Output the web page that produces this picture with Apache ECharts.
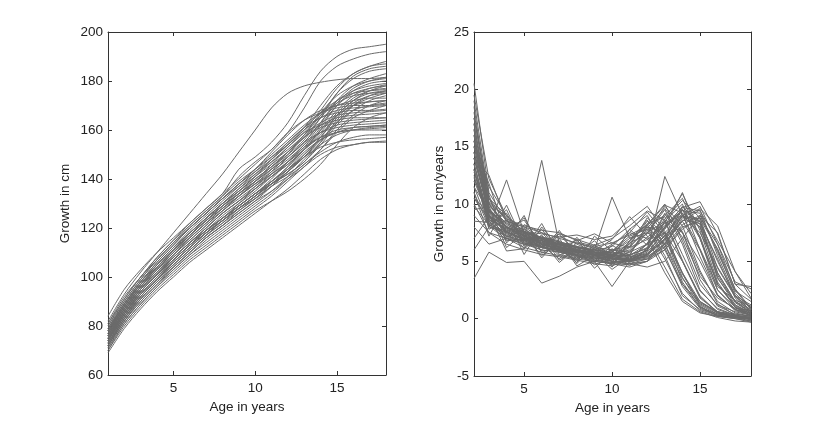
<!DOCTYPE html>
<html>
<head>
<meta charset="utf-8">
<script src="https://cdn.jsdelivr.net/npm/echarts@6.0.0/dist/echarts.min.js"></script>
<style>
  html, body { margin: 0; padding: 0; background: #fff; }
  #chart { width: 830px; height: 421px; }
</style>
</head>
<body>
<div id="chart"></div>
<script>
// ages for the height curves (years)
const heightAges = [1, 2, 3, 4, 5, 6, 7, 8, 9, 10, 11, 12, 13, 14, 15, 16, 17, 18]
// height in cm, one row per child
const heightCurves = [
  [80, 91, 100, 108, 115, 122, 128, 134, 144, 149, 155, 163, 174, 184, 190, 193, 194, 195],
  [79, 90, 99, 107, 114, 121, 127, 133, 141, 147, 152, 159, 169, 180, 186, 189, 191, 192],
  [82, 93, 102, 110, 118, 126, 134, 142, 151, 160, 169, 175, 178, 179.5, 180.5, 181, 181, 181.5],
  [78, 89, 97, 105, 112, 118, 124, 130, 135, 140, 145, 150, 156, 165, 175, 182, 185, 186],
  [77, 88, 97, 104, 111, 117, 123, 129, 134, 139, 144, 149, 155, 163, 172, 178, 181, 183],
  [76, 87, 95, 103, 109, 116, 122, 127, 133, 138, 142, 147, 153, 161, 170, 176, 179, 180],
  [75, 86, 94, 101, 108, 114, 120, 126, 131, 136, 141, 146, 152, 159, 167, 173, 176, 177],
  [74, 85, 93, 100, 107, 113, 119, 124, 129, 134, 139, 144, 150, 157, 165, 171, 174, 175],
  [73, 84, 92, 99, 105, 111, 117, 123, 128, 133, 138, 142, 147, 154, 162, 168, 172, 174],
  [77, 87, 96, 103, 110, 117, 123, 129, 134, 140, 145, 151, 158, 167, 174, 178, 180, 181],
  [72, 82, 90, 97, 104, 110, 116, 121, 126, 131, 135, 140, 145, 152, 160, 166, 170, 172],
  [75, 85, 94, 101, 107, 113, 119, 124, 129, 134, 138, 142, 147, 155, 164, 170, 173, 175],
  [79, 89, 98, 106, 113, 120, 126, 132, 138, 143, 148, 154, 161, 170, 178, 183, 186, 187],
  [76, 86, 95, 102, 109, 115, 121, 127, 132, 137, 142, 147, 152, 158, 166, 172, 176, 178],
  [74, 84, 92, 99, 106, 112, 118, 123, 128, 132, 137, 141, 146, 152, 159, 165, 168, 170],
  [78, 88, 97, 104, 111, 118, 124, 130, 136, 141, 146, 151, 157, 165, 172, 176, 178, 179],
  [70, 80, 88, 95, 101, 107, 112, 117, 122, 127, 131, 135, 140, 146, 154, 161, 165, 167],
  [81, 92, 100, 108, 115, 121, 127, 133, 139, 144, 149, 154, 160, 168, 177, 183, 186, 188],
  [75, 86, 95, 102, 109, 115, 121, 127, 133, 139, 146, 153, 159, 162, 164, 165, 165, 165],
  [73, 84, 93, 100, 107, 113, 119, 124, 130, 136, 142, 149, 155, 159, 161, 162, 162.5, 163],
  [72, 83, 91, 98, 104, 110, 116, 121, 126, 131, 137, 143, 149, 153, 155, 156, 156.5, 157],
  [71, 81, 89, 96, 102, 108, 113, 118, 123, 128, 133, 139, 145, 150, 153, 154, 155, 155],
  [76, 87, 96, 104, 111, 117, 123, 129, 135, 141, 148, 155, 161, 165, 167, 168, 168, 168.5],
  [74, 85, 94, 101, 108, 114, 120, 126, 131, 137, 143, 150, 157, 161, 163, 164, 164.5, 165],
  [78, 89, 98, 106, 113, 120, 126, 132, 138, 144, 151, 158, 164, 168, 170, 171, 171.5, 172],
  [73, 83, 92, 99, 105, 111, 117, 122, 128, 133, 139, 145, 152, 157, 160, 161, 161.5, 162],
  [69, 79, 87, 94, 100, 106, 111, 116, 121, 126, 131, 136, 142, 148, 152, 154, 155, 155.5],
  [77, 88, 97, 104, 111, 117, 124, 130, 136, 142, 148, 154, 160, 165, 168, 169, 169.5, 170],
  [75, 85, 94, 101, 107, 113, 119, 125, 130, 135, 141, 147, 154, 159, 162, 163, 163.5, 164],
  [72, 82, 91, 98, 104, 110, 116, 121, 127, 132, 137, 143, 150, 156, 159, 160, 160.5, 161],
  [74, 85, 93, 100, 106, 112, 118, 123, 129, 134, 140, 147, 153, 157, 159, 160, 160, 160],
  [84, 95, 103, 110, 116, 122, 128, 134, 140, 146, 152, 159, 164, 167, 169, 170, 170, 170.5],
  [76, 87, 96, 103, 110, 116, 122, 128, 133, 138, 144, 151, 158, 163, 166, 167, 167.5, 168],
  [78, 88, 97, 105, 112, 118, 124, 130, 135, 141, 147, 153, 159, 166, 171, 174, 175, 175.5],
  [75, 86, 95, 102, 108, 114, 120, 126, 131, 136, 141, 146, 152, 160, 168, 174, 177, 178],
  [73, 83, 92, 99, 106, 112, 118, 123, 128, 133, 138, 143, 149, 157, 166, 172, 175, 176],
  [80, 90, 99, 107, 114, 120, 126, 132, 137, 142, 147, 152, 158, 166, 175, 181, 184, 185],
  [71, 82, 90, 97, 103, 109, 115, 120, 125, 130, 135, 141, 148, 154, 158, 160, 161, 161.5],
  [77, 87, 96, 103, 110, 116, 122, 128, 134, 139, 145, 151, 157, 162, 165, 166, 166.5, 167],
  [74, 84, 93, 100, 106, 112, 118, 124, 129, 134, 139, 145, 152, 160, 166, 170, 171.5, 172],
  [79, 89, 98, 105, 112, 118, 124, 129, 134, 139, 144, 149, 155, 163, 171, 177, 180, 181.5],
  [72, 83, 91, 98, 105, 111, 117, 122, 127, 132, 138, 144, 151, 156, 159, 161, 161.5, 162],
  [76, 86, 95, 102, 108, 114, 119, 124, 129, 134, 139, 144, 149, 155, 163, 170, 174, 176],
  [78, 89, 98, 105, 112, 119, 125, 131, 137, 143, 149, 155, 161, 167, 172, 175, 176, 176.5],
  [75, 85, 94, 101, 107, 113, 118, 123, 128, 133, 138, 143, 149, 156, 163, 168, 170, 171],
  [70, 81, 89, 96, 103, 109, 114, 119, 124, 129, 134, 140, 146, 151, 155, 157, 158, 158],
  [77, 88, 96, 104, 110, 117, 123, 128, 133, 138, 143, 148, 154, 162, 170, 175, 177, 178.5],
  [81, 91, 100, 107, 114, 120, 126, 132, 138, 144, 150, 156, 162, 167, 170, 172, 173, 173]
]

// ages for the growth velocity curves (years)
const velocityAges = [2.15, 3, 4, 5, 6, 7, 8, 9, 10, 11, 12, 13, 14, 15, 16, 17, 17.9]
// growth velocity in cm/year, one row per child
const velocityCurves = [
  [20.5, 11, 8.5, 7.5, 7, 6.5, 6, 5.5, 5.2, 5, 5.5, 8, 11, 7, 3, 1.2, 0.5],
  [17, 10, 8, 7.2, 6.8, 6.3, 6, 5.6, 5.3, 5.1, 6, 12.4, 9, 8.5, 3.5, 1.5, 0.8],
  [15, 9.5, 8, 7, 13.8, 6.5, 6, 5.5, 5, 4.8, 5, 6.5, 9, 8, 4, 1.5, 0.6],
  [3.5, 5.8, 4.9, 5, 3.1, 3.7, 4.5, 5, 4.8, 4.5, 5, 7, 8.5, 6, 2.5, 1, 0.3],
  [14, 12.5, 8.5, 8, 7, 6.5, 6, 5.8, 5.5, 5.5, 6.5, 8.5, 7.5, 4, 1.5, 0.5, 0.2],
  [16, 9, 7, 6.8, 6.2, 6, 5.5, 5.2, 5.5, 6.5, 8.5, 7, 4, 1.5, 0.5, 0.2, 0],
  [14, 9.5, 8, 7.5, 7, 6.5, 6.2, 6, 10.6, 7, 7.5, 6.5, 3.5, 1.5, 0.6, 0.3, 0.1],
  [13, 8.5, 7, 6.5, 6, 5.8, 5.5, 5, 2.8, 5, 6, 8, 9.5, 7, 3, 1, 0.4],
  [11, 8, 7.5, 7, 6.5, 6, 5.5, 5.3, 5, 4.8, 4.5, 5, 7, 9, 7.5, 3, 2.8],
  [18, 10, 8, 7.5, 7, 6.6, 6.2, 5.8, 5.5, 5.3, 6, 8.5, 10, 6, 2, 0.8, 0.3],
  [9, 7.5, 7, 6.5, 6.2, 6, 5.8, 5.5, 5.8, 7, 8, 5.5, 2, 0.8, 0.3, 0.1, -0.2],
  [15.5, 9, 7.5, 7, 6.8, 6.2, 5.9, 5.6, 5.4, 5.2, 5.5, 7, 9.5, 8.5, 4, 1.5, 0.5],
  [13.5, 8.8, 7.8, 7.2, 6.5, 6.2, 5.8, 5.5, 6.5, 7.5, 7, 4, 1.5, 0.5, 0.2, 0, -0.3],
  [17.5, 10.5, 9, 7.5, 7, 6.2, 6, 5.8, 5.4, 5.2, 5.8, 7.5, 9, 7.5, 4.5, 2, 1.2],
  [6, 8, 12.1, 7.5, 6.5, 6, 5.6, 5.4, 5, 5, 5.2, 6, 8, 8.5, 5, 2, 0.6],
  [14.5, 9.2, 7.6, 6.9, 6.4, 6.1, 5.8, 5.6, 5.8, 6.8, 8.2, 6, 3, 1, 0.4, 0.2, 0],
  [12, 9, 8, 7.2, 6.6, 6.3, 6, 5.6, 5.3, 5.1, 5.4, 6.5, 8.5, 9.5, 5.5, 2, 0.7],
  [16.5, 10, 8.2, 7.4, 6.9, 6.4, 6.1, 5.7, 5.6, 6, 7.5, 8.5, 5, 1.8, 0.6, 0.2, 0.1],
  [10, 7.5, 6.5, 6, 5.6, 5.4, 5.1, 4.8, 4.6, 5.2, 6.5, 7.5, 5, 2, 0.5, 0.1, -0.1],
  [19, 10.5, 8.5, 8, 7.5, 7, 6.6, 6.2, 6, 5.8, 6.5, 9, 10.5, 7, 2.5, 0.8, 0.3],
  [13, 8.5, 7.2, 6.8, 6.3, 5.9, 5.6, 5.3, 5.1, 5.8, 7.5, 9.5, 6.5, 2.5, 0.8, 0.3, 0],
  [15, 9.8, 8.3, 7.6, 7, 6.7, 6.3, 5.9, 5.6, 5.4, 5.6, 6.8, 9, 9.8, 6.5, 2.5, 0.8],
  [11.5, 8.2, 7.2, 6.6, 6.3, 5.9, 5.5, 5.2, 5.4, 6.2, 8, 7.5, 4, 1.2, 0.4, 0.2, 0.1],
  [14, 9.4, 8, 7.3, 6.8, 6.4, 6.2, 6, 5.7, 5.5, 6.2, 8, 9.5, 7.2, 3, 1.1, 0.4],
  [8, 6.5, 7, 6.2, 5.8, 5.5, 5.2, 5, 4.8, 4.7, 5, 6, 7.8, 8.8, 6.5, 3.2, 2.6],
  [16, 9.6, 8, 7.2, 6.7, 6.3, 5.9, 5.6, 5.5, 6.3, 8.8, 7.2, 3.2, 1, 0.3, 0.1, 0],
  [12.8, 8.9, 7.6, 7, 6.5, 6.1, 5.8, 5.5, 5.2, 5.1, 5.6, 7.2, 9.2, 8, 3.8, 1.4, 0.5],
  [17, 9.3, 7.7, 7.1, 6.6, 6.2, 5.9, 5.7, 5.9, 7.2, 7.8, 5.2, 2.2, 0.7, 0.2, 0, -0.2],
  [14.5, 9.1, 7.4, 6.9, 6.3, 6, 5.7, 5.4, 5.2, 5, 5.3, 6.2, 8.2, 9, 6, 2.2, 0.9],
  [10.5, 8.6, 7.9, 7.3, 6.9, 6.5, 6.2, 5.9, 6.3, 7.8, 9, 6.2, 2.8, 0.9, 0.3, 0.1, 0],
  [15.5, 11.5, 9, 7.6, 7.1, 6.7, 6.3, 6, 5.8, 5.6, 6.1, 7.8, 9.8, 8.2, 3.6, 1.2, 0.4],
  [13.5, 8.7, 7.3, 6.7, 6.2, 5.8, 5.4, 5.1, 4.9, 4.8, 5.2, 6.6, 8.6, 8.3, 5.2, 1.8, 0.6],
  [12, 10.5, 7.5, 8.8, 6.2, 7.4, 5.6, 6.8, 5.2, 7.8, 6.4, 9.2, 7.5, 5, 2, 0.8, 0.5],
  [16.5, 8, 9.5, 6.3, 7.8, 5.8, 6.9, 5, 6.4, 5.5, 8.2, 10, 6.8, 3, 1.2, 0.6, 0.3],
  [9.5, 9.8, 6.2, 7.5, 5.3, 7, 4.8, 6.5, 4.5, 6.8, 8.6, 6.5, 3, 1.4, 0.6, 0.4, 0.2],
  [14.5, 10.2, 8.8, 5.6, 8, 6.1, 4.9, 7.2, 5.9, 4.6, 6.2, 7.9, 9.4, 9.2, 5.8, 2.4, 1.5],
  [18.5, 9.6, 7.9, 8.6, 6.4, 5.2, 7.1, 5.3, 4.7, 6.6, 7.4, 9.8, 8.1, 4.2, 1.3, 0.3, -0.1],
  [11, 7.2, 9.9, 6.6, 6, 7.7, 5.4, 4.9, 6.1, 5.2, 5.7, 6.9, 9.7, 10.2, 7.4, 3, 1.7],
  [13.5, 8.1, 6.9, 9, 5.7, 6.6, 6.3, 4.4, 5.8, 7.5, 9.3, 7.4, 3.6, 1.1, 0.2, 0.1, 0],
  [7, 8.9, 8.1, 6.1, 7.3, 5.1, 6, 5.7, 4.3, 5.4, 5.9, 8.4, 10.9, 7.7, 3.2, 1, 0.2],
  [15, 11.8, 7.1, 7.8, 6.9, 5.5, 6.6, 6.1, 5, 5.9, 7.1, 8.3, 9, 6.1, 2.8, 1.6, 1.1],
  [10.5, 9.3, 8.4, 7.3, 5.5, 6.7, 5.2, 5.9, 6.9, 8.9, 7.2, 4.5, 1.7, 0.6, 0.1, -0.2, -0.3],
  [17.5, 10.8, 6.6, 8.2, 7.5, 6, 5.1, 6.4, 5.6, 5, 6.6, 8.7, 10.3, 8.8, 4.4, 1.9, 1],
  [12.5, 8.3, 9.2, 6.4, 7.1, 6.8, 4.6, 5.5, 6, 6.3, 7.7, 9.1, 7.1, 3.7, 1.8, 0.9, 0.7],
  [13, 7.8, 8.6, 7.7, 5.9, 6.1, 5.8, 4.7, 5.3, 6.7, 8.3, 8.9, 5.6, 2.4, 0.9, 0.3, 0.1],
  [8.5, 8.4, 6.8, 6.9, 6.8, 4.9, 6.2, 5.1, 4.9, 5.1, 5.4, 6.3, 8.8, 9.6, 8.1, 4.1, 2.2],
  [19.5, 12.2, 8.9, 7.1, 6.3, 7.2, 6.5, 5.8, 5.2, 5.6, 7.9, 9.6, 7.6, 3.4, 1.1, 0.4, 0.2],
  [14, 9.1, 5.9, 6.1, 8.3, 5.6, 5.3, 6.2, 5.5, 4.9, 5.6, 7.3, 8.9, 8.7, 6.1, 2.6, 0.9],
  [11.5, 9.4, 7.9, 7.6, 7.4, 7.1, 7.3, 6.9, 7.2, 8.6, 9.8, 7.6, 3.9, 1.3, 0.5, 0.2, 0.1],
  [15.5, 10.1, 8.7, 8.1, 7.7, 7.5, 6.8, 7.4, 6.6, 7.3, 8.1, 9.9, 9.2, 5.4, 2.1, 0.7, 0.3],
  [12.3, 8.8, 7.7, 7.9, 6.6, 7.4, 6.9, 6.4, 7, 8.1, 9.4, 8.6, 5.1, 1.9, 0.6, 0.2, 0],
  [9.8, 8.2, 7.6, 6.8, 7.2, 6.4, 6.7, 6.3, 6.6, 6.2, 6.9, 8.1, 9.7, 9.4, 6.8, 4.1, 1.8]
]

const ageTicks = [5, 10, 15]

const font = 'Liberation Sans, Arial, sans-serif'
const axisColor = '#333'
const lineColor = '#6a6a6a'

function xAxisFor(grid, min, max, top) {
  return {
    type: 'value', gridIndex: grid, min: min, max: max,
    position: top ? 'top' : 'bottom',
    name: top ? '' : 'Age in years', nameLocation: 'middle', nameGap: 24,
    nameTextStyle: { color: '#222', fontFamily: font, fontSize: 13.5 },
    axisLine: { show: true, onZero: false, lineStyle: { color: axisColor, width: 1 } },
    axisTick: { show: true, inside: true, length: 4, customValues: ageTicks, lineStyle: { color: axisColor } },
    axisLabel: { show: !top, customValues: ageTicks, margin: 6, color: '#222', fontFamily: font, fontSize: 13.5 },
    splitLine: { show: false }
  }
}

function yAxisFor(grid, min, max, step, name, gap, right) {
  return {
    type: 'value', gridIndex: grid, min: min, max: max, interval: step,
    position: right ? 'right' : 'left',
    name: right ? '' : name, nameLocation: 'middle', nameGap: gap,
    nameTextStyle: { color: '#222', fontFamily: font, fontSize: 13.5 },
    axisLine: { show: true, onZero: false, lineStyle: { color: axisColor, width: 1 } },
    axisTick: { show: true, inside: true, length: 4, lineStyle: { color: axisColor } },
    axisLabel: { show: !right, margin: 5, color: '#222', fontFamily: font, fontSize: 13.5 },
    splitLine: { show: false }
  }
}

const series = []
heightCurves.forEach(function (row) {
  series.push({
    type: 'line', xAxisIndex: 0, yAxisIndex: 0,
    data: row.map(function (v, i) { return [heightAges[i], v] }),
    showSymbol: false, smooth: 0.3, silent: true,
    lineStyle: { color: lineColor, width: 1 }
  })
})
velocityCurves.forEach(function (row) {
  series.push({
    type: 'line', xAxisIndex: 2, yAxisIndex: 2,
    data: row.map(function (v, i) { return [velocityAges[i], v] }),
    showSymbol: false, silent: true,
    lineStyle: { color: lineColor, width: 1 }
  })
})

const chart = echarts.init(document.getElementById('chart'))
chart.setOption({
  animation: false,
  backgroundColor: '#fff',
  grid: [
    { left: 108, right: 444, top: 32, bottom: 46 },
    { left: 474, right: 79, top: 32, bottom: 45 }
  ],
  xAxis: [
    xAxisFor(0, 1, 18, false),
    xAxisFor(0, 1, 18, true),
    xAxisFor(1, 2.15, 17.9, false),
    xAxisFor(1, 2.15, 17.9, true)
  ],
  yAxis: [
    yAxisFor(0, 60, 200, 20, 'Growth in cm', 36, false),
    yAxisFor(0, 60, 200, 20, '', 0, true),
    yAxisFor(1, -5, 25, 5, 'Growth in cm/years', 28, false),
    yAxisFor(1, -5, 25, 5, '', 0, true)
  ],
  series: series
})
</script>
</body>
</html>
